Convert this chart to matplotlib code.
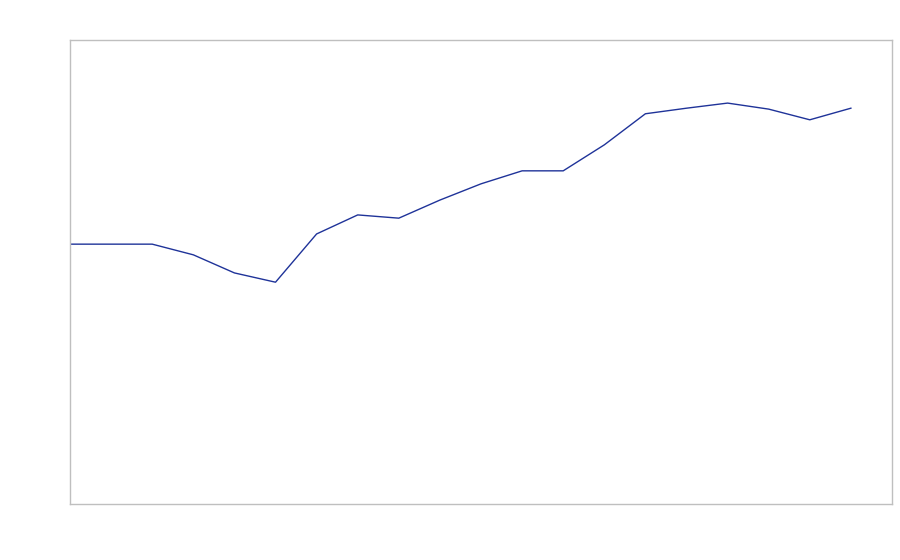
import matplotlib
matplotlib.use("Agg")
import matplotlib.pyplot as plt

# 20 periods, no labels shown in the chart
periods = list(range(20))
values = [56.0, 56.0, 56.0, 53.7, 49.8, 47.8, 58.2, 62.3, 61.6, 65.5,
          69.0, 71.8, 71.8, 77.4, 84.1, 85.3, 86.4, 85.1, 82.8, 85.3]

fig = plt.figure(figsize=(9, 5.6), dpi=100)
ax = fig.add_axes([0.0778, 0.1, 0.9133, 0.8286])

ax.plot(periods, values, color="#1f3399", linewidth=1.0)

ax.set_xlim(0, 20)
ax.set_ylim(0, 100)
ax.set_xticks([])
ax.set_yticks([])
for s in ax.spines.values():
    s.set_color("#bfbfbf")
    s.set_linewidth(1.0)

fig.savefig("out.png", dpi=100)
